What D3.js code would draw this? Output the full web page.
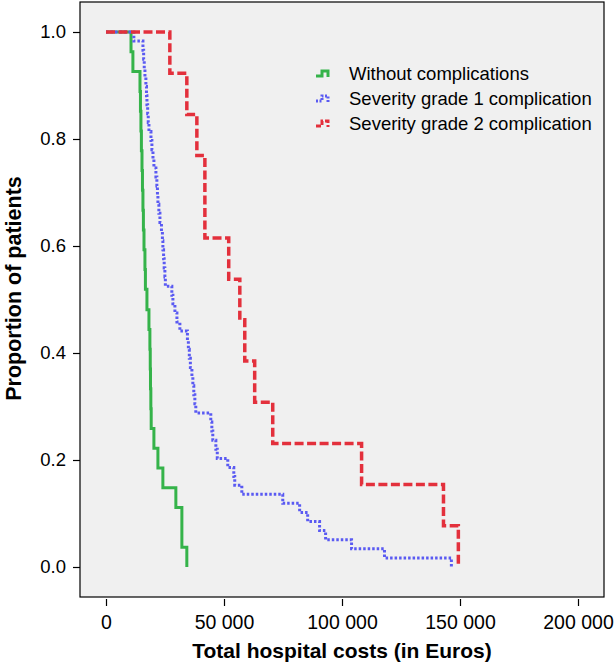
<!DOCTYPE html>
<html>
<head>
<meta charset="utf-8">
<script src="https://cdn.jsdelivr.net/npm/d3@7"></script>
<style>
  html, body { margin: 0; padding: 0; background: #ffffff; }
  svg { display: block; }
  text { font-family: "Liberation Sans", Arial, Helvetica, sans-serif; }
</style>
</head>
<body>
<svg id="chart" width="614" height="667"></svg>
<script>
// ---- data (cost in Euros, survival proportion) ----
const seriesNames = ["Without complications", "Severity grade 1 complication", "Severity grade 2 complication"];

const greenCosts = [0, 10600, 11400, 14400, 14600, 14800, 15000, 15250, 15450, 15650, 15850, 16100, 16500, 16700,
  17350, 18200, 18600, 18750, 18850, 19000, 19150, 20300, 22000, 24100, 29600, 32150, 32150, 34250];
const greenSurv = [1.000, 0.963, 0.926, 0.889, 0.852, 0.815, 0.778, 0.741, 0.704, 0.667, 0.630, 0.593, 0.556, 0.519,
  0.481, 0.444, 0.407, 0.370, 0.333, 0.296, 0.259, 0.222, 0.185, 0.148, 0.111, 0.074, 0.037, 0.000];

const blueCosts = [0, 11800, 15650, 15950, 16200, 16500, 16900, 17150, 17350, 17650, 17900, 18200, 19050, 19450,
  19900, 20300, 21150, 21550, 21800, 22000, 22400, 22850, 23500, 23900, 24100, 24400, 24650, 24950, 25150,
  27900, 28350, 29200, 30050, 31300, 34500, 34900, 35300, 35750, 36400, 36800, 37200, 37650, 38050,
  44400, 44850, 45250, 46550, 47150, 51600, 54150, 54550, 57550, 74900, 82050, 85450, 90500, 93050,
  104050, 118000, 146350];
const blueSurv = [1.000, 0.983, 0.966, 0.949, 0.932, 0.915, 0.898, 0.881, 0.864, 0.847, 0.831, 0.814, 0.797, 0.780,
  0.763, 0.746, 0.729, 0.712, 0.695, 0.678, 0.661, 0.644, 0.627, 0.610, 0.593, 0.576, 0.559, 0.542, 0.525,
  0.508, 0.492, 0.475, 0.458, 0.441, 0.424, 0.407, 0.390, 0.373, 0.356, 0.339, 0.322, 0.305, 0.288,
  0.271, 0.254, 0.237, 0.220, 0.203, 0.186, 0.169, 0.153, 0.136, 0.119, 0.102, 0.085, 0.068, 0.051,
  0.034, 0.017, 0.000];

const redCosts = [0, 27050, 34250, 38500, 41900, 41900, 52000, 56700, 58800, 63000, 70650, 108300, 143000, 149300];
const redSurv = [1.000, 0.923, 0.846, 0.769, 0.692, 0.615, 0.538, 0.462, 0.385, 0.308, 0.231, 0.154, 0.077, 0.000];

const xTicks = [0, 50000, 100000, 150000, 200000];
const yTicks = [0, 0.2, 0.4, 0.6, 0.8, 1.0];

const xTitle = "Total hospital costs (in Euros)";
const yTitle = "Proportion of patients";

// ---- drawing ----
const svg = d3.select("#chart");
const frame = { left: 80, top: 2, right: 604, bottom: 597 };

const x = d3.scaleLinear().domain([0, 200000]).range([106, 578]);
const y = d3.scaleLinear().domain([0, 1]).range([567, 32]);

svg.append("rect")
  .attr("x", frame.left).attr("y", frame.top)
  .attr("width", frame.right - frame.left).attr("height", frame.bottom - frame.top)
  .attr("fill", "#f0f0f0").attr("stroke", "#000").attr("stroke-width", 1.2);

// y axis
const yAxis = d3.axisLeft(y).tickValues(yTicks).tickFormat(d3.format(".1f")).tickSizeInner(7).tickSizeOuter(0).tickPadding(7);
const gy = svg.append("g").attr("transform", `translate(${frame.left},0)`).call(yAxis);
gy.select(".domain").remove();
gy.selectAll("line").attr("stroke", "#000").attr("stroke-width", 1.2);
gy.selectAll("text").attr("font-size", 18.5).attr("fill", "#000")
  .attr("font-family", "'Liberation Sans', Arial, sans-serif");

// x axis
const fmt = v => d3.format(",")(v).replace(/,/g, " ");
const xAxis = d3.axisBottom(x).tickValues(xTicks).tickFormat(fmt).tickSizeInner(7).tickSizeOuter(0).tickPadding(9);
const gx = svg.append("g").attr("transform", `translate(0,${frame.bottom + 2})`).call(xAxis);
gx.select(".domain").remove();
gx.selectAll("line").attr("stroke", "#000").attr("stroke-width", 1.2);
gx.selectAll("text").attr("font-size", 19.5).attr("fill", "#000")
  .attr("font-family", "'Liberation Sans', Arial, sans-serif");

// titles
svg.append("text")
  .attr("x", (frame.left + frame.right) / 2).attr("y", 658)
  .attr("text-anchor", "middle").attr("font-size", 21).attr("font-weight", "bold")
  .text(xTitle);
svg.append("text")
  .attr("transform", `translate(21,${(frame.top + frame.bottom) / 2 - 11}) rotate(-90)`)
  .attr("text-anchor", "middle").attr("font-size", 21.5).attr("font-weight", "bold")
  .text(yTitle);

// curves
const line = d3.line().x(d => x(d[0])).y(d => y(d[1])).curve(d3.curveStepAfter);
const styles = [
  { color: "#35b34a", width: 3, dash: null },
  { color: "#5a5af2", width: 3, dash: "2.5,2" },
  { color: "#e3303c", width: 3.5, dash: "9,3.5" }
];
const series = [
  d3.zip(greenCosts, greenSurv),
  d3.zip(blueCosts, blueSurv),
  d3.zip(redCosts, redSurv)
];
const plot = svg.append("g");
series.forEach((pts, i) => {
  plot.append("path")
    .attr("d", line(pts))
    .attr("fill", "none")
    .attr("stroke", styles[i].color)
    .attr("stroke-width", styles[i].width)
    .attr("stroke-dasharray", styles[i].dash)
    .attr("stroke-linejoin", "miter");
});

// legend
const legend = svg.append("g");
seriesNames.forEach((name, i) => {
  const cy = 73 + i * 25;
  legend.append("path")
    .attr("d", `M316,${cy + 3} H322 V${cy - 2} H328 V${cy + 4}`)
    .attr("fill", "none")
    .attr("stroke", styles[i].color)
    .attr("stroke-width", 3)
    .attr("stroke-dasharray", i === 1 ? "2,1.5" : (i === 2 ? "5,2" : null));
  legend.append("text")
    .attr("x", 349).attr("y", cy + 6.5)
    .attr("font-size", 18.5).attr("fill", "#000")
    .text(name);
});
</script>
</body>
</html>
